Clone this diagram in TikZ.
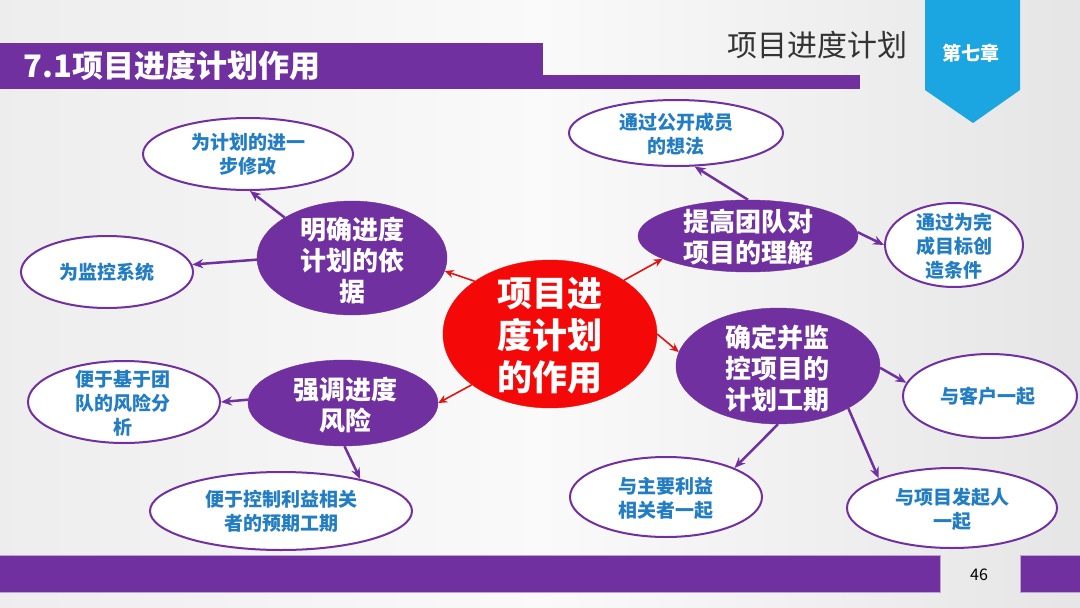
\documentclass[tikz,border=0pt]{standalone}
\usepackage{fontspec}
\setmainfont{Noto Sans CJK SC}
\usetikzlibrary{shapes.geometric,arrows.meta}
\definecolor{pur}{RGB}{112,48,160}
\definecolor{tblue}{RGB}{35,125,195}
\definecolor{bannerblue}{RGB}{27,165,225}
\definecolor{redc}{RGB}{245,8,8}
\definecolor{arrred}{RGB}{225,20,20}
\tikzset{
 pell/.style={ellipse, fill=pur, draw=pur, inner sep=0pt},
 rell/.style={ellipse, fill=redc, draw=redc, inner sep=0pt},
 well/.style={ellipse, fill=white, draw=pur, line width=2pt, inner sep=0pt},
 ptext/.style={text=white, font=\bfseries\fontsize{26}{31}\selectfont, align=center},
 rtext/.style={text=white, font=\bfseries\fontsize{35}{42}\selectfont, align=center},
 wtext/.style={text=tblue, font=\bfseries\fontsize{19}{24}\selectfont, align=center},
 parr/.style={draw=pur, line width=2.5pt, -{Stealth[length=11pt,width=9pt]}},
 rarr/.style={draw=arrred, line width=1.6pt, -{Stealth[length=9pt,width=8pt]}},
 barfill/.style={fill=pur, draw=pur!45, line width=0.8pt},
}
\begin{document}
\begin{tikzpicture}[x=1pt,y=-1pt]
\useasboundingbox (0,0) rectangle (1080,608);
\shade[left color=gray!14, right color=gray!20, middle color=gray!4] (0,0) rectangle (1080,608);

% header
\fill[pur] (0,43) rectangle (543,89);
\fill[pur] (543,75) rectangle (860,89);
\node[anchor=west, text=white, font=\bfseries\fontsize{31}{31}\selectfont] (title) at (20,66) {7.1项目进度计划作用};
\node[text=black!80, font=\fontsize{30}{30}\selectfont] (chap) at (817,45) {项目进度计划};
\fill[bannerblue] (925,0) -- (1020,0) -- (1020,90) -- (973,123) -- (925,90) -- cycle;
\node[text=white, font=\bfseries\fontsize{19}{19}\selectfont] (chapno) at (971,53) {第七章};

% footer
\path[barfill] (-2,555) rectangle (940,592);
\path[barfill] (1020,555) rectangle (1082,592);
\node[text=black, font=\fontsize{16}{16}\selectfont] (page) at (979,575) {46};

% central
\node[rell, minimum width=214pt, minimum height=148pt] (R) at (550,334) {};
\node[rtext] (Rt) at (550,336) {项目进\\度计划\\的作用};

% purple
\node[pell, minimum width=190pt, minimum height=114pt] (A) at (352,258) {};
\node[ptext] (At) at (352,261) {明确进度\\计划的依\\据};
\node[pell, minimum width=220pt, minimum height=72pt] (B) at (748,236) {};
\node[ptext] (Bt) at (748,237) {提高团队对\\项目的理解};
\node[pell, minimum width=190pt, minimum height=86pt] (C) at (343,403) {};
\node[ptext] (Ct) at (345,405) {强调进度\\风险};
\node[pell, minimum width=204pt, minimum height=116pt] (D) at (778,366) {};
\node[ptext] (Dt) at (777,368) {确定并监\\控项目的\\计划工期};

% white
\node[well, minimum width=210pt, minimum height=72pt] (a) at (248,154) {};
\node[wtext] (at) at (248,154) {为计划的进一\\步修改};
\node[well, minimum width=172pt, minimum height=72pt] (b) at (107,272) {};
\node[wtext] (bt) at (107,272) {为监控系统};
\node[well, minimum width=214pt, minimum height=66pt] (c) at (676,133) {};
\node[wtext] (ct) at (676,134) {通过公开成员\\的想法};
\node[well, minimum width=138pt, minimum height=84pt] (d) at (954,245) {};
\node[wtext] (dt) at (954,246) {通过为完\\成目标创\\造条件};
\node[well, minimum width=192pt, minimum height=82pt] (e) at (124,402) {};
\node[wtext] (et) at (123,403) {便于基于团\\队的风险分\\析};
\node[well, minimum width=262pt, minimum height=78pt] (f) at (281,511) {};
\node[wtext] (ft) at (281,511) {便于控制利益相关\\者的预期工期};
\node[well, minimum width=174pt, minimum height=84pt] (g) at (990,396) {};
\node[wtext] (gt) at (988,396) {与客户一起};
\node[well, minimum width=192pt, minimum height=80pt] (h) at (666,497) {};
\node[wtext] (ht) at (666,498) {与主要利益\\相关者一起};
\node[well, minimum width=210pt, minimum height=80pt] (i) at (952,508) {};
\node[wtext] (it) at (952,509) {与项目发起人\\一起};

% purple arrows
\draw[parr] (A.149) -- (a.-87);
\draw[parr] (A.181) -- (b.5);
\draw[parr] (B.90) -- (c.-61);
\draw[parr] (B.2) -- (d.180);
\draw[parr] (C.178) -- (e.0);
\draw[parr] (C.-88) -- (f.22);
\draw[parr] (D.-1) -- (g.171);
\draw[parr] (D.-90) -- (h.23);
\draw[parr] (D.-31) -- (i.158);

% red arrows
\draw[rarr] (R.145) -- (A.-8);
\draw[rarr] (R.36) -- (B.-165);
\draw[rarr] (R.0) -- (D.172);
\draw[rarr] (R.213) -- (C.0);
\end{tikzpicture}
\end{document}
